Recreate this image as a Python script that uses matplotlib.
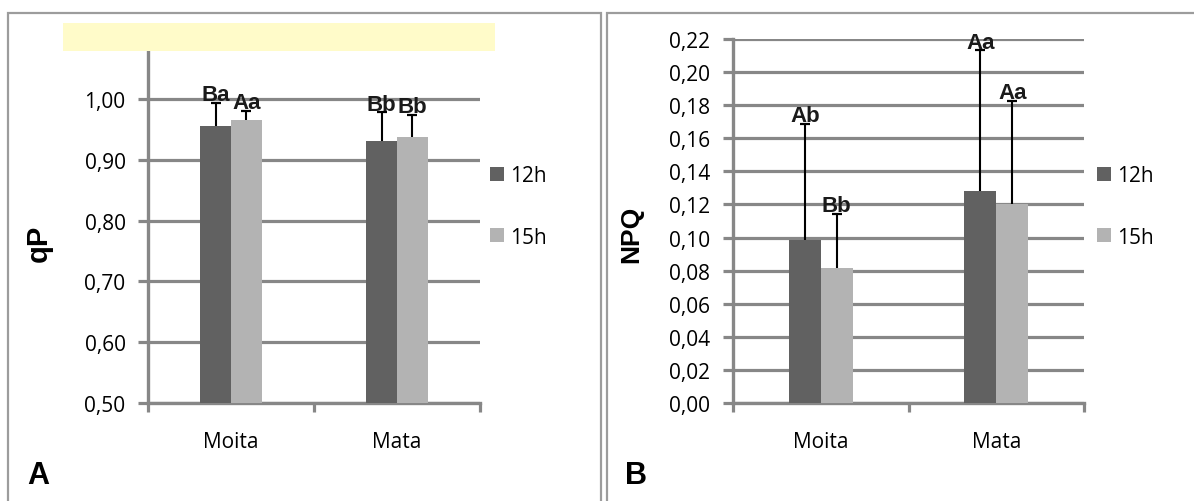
import matplotlib
matplotlib.use("Agg")
import matplotlib.pyplot as plt
from matplotlib.patches import Rectangle
from matplotlib.ticker import FuncFormatter, FixedLocator
import numpy as np

# ---------------- data ----------------
categories = ["Moita", "Mata"]
series_names = ["12h", "15h"]

qp_12h = [0.956, 0.931]
qp_15h = [0.965, 0.937]
qp_err_12h = [0.037, 0.047]
qp_err_15h = [0.016, 0.037]
qp_letters_12h = ["Ba", "Bb"]
qp_letters_15h = ["Aa", "Bb"]

npq_12h = [0.0987, 0.1281]
npq_15h = [0.0814, 0.1205]
npq_err_12h = [0.070, 0.085]
npq_err_15h = [0.033, 0.062]
npq_letters_12h = ["Ab", "Aa"]
npq_letters_15h = ["Bb", "Aa"]

qp_ticks = [0.50, 0.60, 0.70, 0.80, 0.90, 1.00, 1.10]
npq_ticks = [0.00, 0.02, 0.04, 0.06, 0.08, 0.10, 0.12, 0.14, 0.16, 0.18, 0.20, 0.22]

# ---------------- style ----------------
W, H = 1194, 502
DARK = "#616161"
LIGHT = "#b3b3b3"
GRID = "#878787"
BORDER = "#9c9c9c"
FONT = "Open Sans"
BOLD = "Liberation Sans"
FS = 15

fig = plt.figure(figsize=(W / 100, H / 100), dpi=100)
fig.patch.set_facecolor("white")


def px_rect(x0, y0, x1, y1):
    return [x0 / W, 1 - y1 / H, (x1 - x0) / W, (y1 - y0) / H]


def comma_fmt(v, pos):
    return f"{v:.2f}".replace(".", ",")


def draw_series(ax, xs, vals, errs, letters, color, bw, name):
    ax.bar(xs, vals, bw, color=color, zorder=3, label=name)
    tops = np.array(vals) + np.array(errs)
    ax.vlines(xs, vals, tops, color="black", linewidth=1.5, zorder=4)
    ax.plot(xs, tops, linestyle="none", marker="_", markersize=7,
            markeredgewidth=1.6, color="black", zorder=4)
    for xi, t, lab in zip(xs, tops, letters):
        ax.annotate(lab, xy=(xi, t), xytext=(0, 2), textcoords="offset points",
                    ha="center", va="baseline", fontsize=16, fontweight="bold",
                    family=BOLD, color="#1a1a1a", zorder=5)


def draw_panel(ax, v12, v15, e12, e15, l12, l15, ticks, ylim, bw):
    x = np.arange(len(categories))
    draw_series(ax, x - bw / 2, v12, e12, l12, DARK, bw, series_names[0])
    draw_series(ax, x + bw / 2, v15, e15, l15, LIGHT, bw, series_names[1])

    ax.set_xlim(-0.5, len(categories) - 0.5)
    ax.set_ylim(*ylim)
    ax.yaxis.set_major_locator(FixedLocator(ticks))
    ax.yaxis.set_major_formatter(FuncFormatter(comma_fmt))
    ax.set_xticks(x)
    ax.set_xticklabels(categories)
    ax.xaxis.set_minor_locator(FixedLocator(np.arange(-0.5, len(categories), 1.0)))
    ax.tick_params(axis="x", which="major", length=0, pad=20, labelsize=FS)
    ax.tick_params(axis="x", which="minor", length=6.5, width=2.3, color=GRID,
                   direction="out")
    ax.tick_params(axis="y", which="major", length=7.2, width=2.3, color=GRID,
                   direction="out", pad=9, labelsize=FS)
    for lab in ax.get_xticklabels() + ax.get_yticklabels():
        lab.set_family(FONT)
    ax.grid(axis="y", color=GRID, linewidth=2.3, zorder=1)
    ax.set_axisbelow(True)
    for s in ["top", "right"]:
        ax.spines[s].set_visible(False)
    for s in ["left", "bottom"]:
        ax.spines[s].set_color(GRID)
        ax.spines[s].set_linewidth(2.4)
    ax.set_facecolor("none")


def add_legend(ax, x_px, y_px):
    ax.legend(loc="upper left", bbox_to_anchor=(x_px / W, 1 - y_px / H),
              bbox_transform=fig.transFigure, frameon=False,
              prop={"family": FONT, "size": FS}, handlelength=0.66,
              handleheight=0.66, handletextpad=0.3, labelspacing=1.95,
              borderpad=0, borderaxespad=0)


# ---------------- panel A ----------------
axA = fig.add_axes(px_rect(148, 39.2, 480, 404))
draw_panel(axA, qp_12h, qp_15h, qp_err_12h, qp_err_15h, qp_letters_12h,
           qp_letters_15h, qp_ticks, (0.50, 1.10), 0.184)
fig.text(39 / W, 1 - 243 / H, "qP", rotation=90, ha="center", va="center",
         fontsize=21, fontweight="bold", family=BOLD)
add_legend(axA, 490, 166)

# ---------------- panel B ----------------
axB = fig.add_axes(px_rect(733, 40, 1084, 404))
draw_panel(axB, npq_12h, npq_15h, npq_err_12h, npq_err_15h, npq_letters_12h,
           npq_letters_15h, npq_ticks, (0.0, 0.22), 0.182)
fig.text(631 / W, 1 - 234 / H, "NPQ", rotation=90, ha="center", va="center",
         fontsize=19, fontweight="bold", family=BOLD)
add_legend(axB, 1097, 166)

# ---------------- panel letters ----------------
fig.text(38 / W, 1 - 476 / H, "A", ha="center", va="center", fontsize=22,
         fontweight="bold", family=BOLD)
fig.text(636 / W, 1 - 476 / H, "B", ha="center", va="center", fontsize=22,
         fontweight="bold", family=BOLD)

# ---------------- borders and yellow overlay ----------------
fig.patches.append(Rectangle((8 / W, -0.05), (601 - 8) / W, 1 - 14 / H + 0.05,
                             transform=fig.transFigure, fill=False,
                             edgecolor=BORDER, linewidth=1.6, zorder=10))
fig.patches.append(Rectangle((607 / W, -0.05), (1200 - 607) / W, 1 - 14 / H + 0.05,
                             transform=fig.transFigure, fill=False,
                             edgecolor=BORDER, linewidth=1.6, zorder=10))
fig.patches.append(Rectangle((63 / W, 1 - 52 / H), (495 - 63) / W, (52 - 24) / H,
                             transform=fig.transFigure, facecolor="#fffbc9",
                             edgecolor="none", zorder=10))

fig.savefig("out.png", dpi=100)
